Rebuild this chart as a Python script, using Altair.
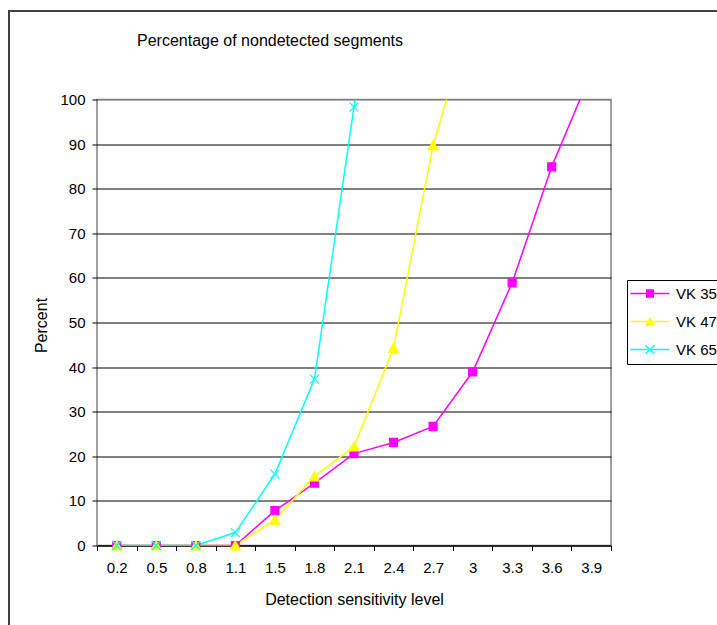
import altair as alt
import pandas as pd

# ---- data ----
levels = ["0.2", "0.5", "0.8", "1.1", "1.5", "1.8", "2.1", "2.4", "2.7", "3", "3.3", "3.6", "3.9"]
vk35 = [0, 0, 0, 0, 7.8, 14.0, 20.6, 23.1, 26.7, 38.9, 58.9, 84.9, 106.0]
vk47 = [0, 0, 0, 0, 5.8, 15.5, 22.2, 44.3, 89.7, 120.0]
vk65 = [0, 0, 0, 2.9, 16.0, 37.3, 98.3, 170.0]
series_names = ["VK 35", "VK 47", "VK 65"]
series_colors = ["#FF00FF", "#FFFF00", "#00FFFF"]
y_ticks = [0, 10, 20, 30, 40, 50, 60, 70, 80, 90, 100]
chart_title = "Percentage of nondetected segments"

rows = []
for name, vals in zip(series_names, [vk35, vk47, vk65]):
    for i, v in enumerate(vals):
        rows.append({"level": levels[i], "series": name, "value": v, "order": i})
df = pd.DataFrame(rows)

FONT = "Liberation Sans"
W, H = 514, 446
LEFT, TOP = 97, 99.5

# marker shapes (unit paths, scaled by sqrt(size)/2)
marker_paths = [
    "M-0.8,-0.8L0.8,-0.8L0.8,0.8L-0.8,0.8Z",
    "M0,-0.9L1,0.9L-1,0.9Z",
    "M-0.9,-0.9L0.9,0.9M-0.9,0.9L0.9,-0.9",
]
# legend symbols drawn as filled shapes: thin bar (the line) + marker
bar = "M-2,-0.15L5.8,-0.15L5.8,0.15L-2,0.15Z"
legend_paths = [
    bar + "M1.1,-0.85L2.7,-0.85L2.7,0.85L1.1,0.85Z",
    bar + "M1.9,-0.9L2.9,0.9L0.9,0.9Z",
    bar + "M0.9,-0.75L1.1,-0.95L2.9,0.75L2.7,0.95Z" + "M0.9,0.75L1.1,0.95L2.9,-0.75L2.7,-0.95Z",
]

def cscale():
    return alt.Scale(domain=series_names, range=series_colors)

x_enc = alt.X(
    "level:O",
    sort=levels,
    bandPosition=0.5,
    scale=alt.Scale(type="band", domain=levels, paddingInner=0, paddingOuter=0),
    axis=alt.Axis(
        title="Detection sensitivity level",
        labelAngle=0,
        tickBand="extent",
        tickSize=5,
        labelPadding=10,
        domainColor="black",
        tickColor="black",
        grid=False,
        titleY=58.6,
        titleBaseline="alphabetic",
        titleFontSize=16,
    ),
)
y_enc = alt.Y(
    "value:Q",
    scale=alt.Scale(domain=[0, 100], nice=False),
    axis=alt.Axis(
        title="Percent",
        values=y_ticks,
        tickSize=5,
        labelPadding=7,
        domain=False,
        tickColor="black",
        grid=True,
        gridColor=alt.condition("datum.value == 100", alt.value("#808080"), alt.value("black")),
        gridWidth=1,
        titleX=-51,
        titleY=225.5,
        titleBaseline="alphabetic",
        titleFontSize=16,
    ),
)

base = alt.Chart(df)

lines = base.mark_line(strokeWidth=1.5, clip=True).encode(
    x=x_enc,
    y=y_enc,
    color=alt.Color("series:N", scale=cscale(), legend=None),
    order="order:Q",
)

points = base.transform_filter("datum.value <= 100").mark_point(
    filled=True, size=100, strokeWidth=1.2, opacity=1
).encode(
    x=x_enc,
    y=y_enc,
    color=alt.Color("series:N", scale=cscale(), legend=None),
    stroke=alt.Stroke("series:N", scale=cscale(), legend=None),
    shape=alt.Shape("series:N", scale=alt.Scale(domain=series_names, range=marker_paths), legend=None),
)

leg = alt.Legend(
    title=None,
    orient="none",
    legendX=530,
    legendY=180.5,
    fillColor="white",
    strokeColor="black",
    padding=6,
    rowPadding=12,
    labelFont=FONT,
    labelFontSize=15,
    labelColor="black",
    labelOffset=28,
    symbolSize=100,
    symbolStrokeWidth=0,
    symbolOpacity=1,
)

legend_layer = base.transform_filter("false").mark_point(
    filled=True, size=100, opacity=1, strokeWidth=0
).encode(
    color=alt.Color("series:N", scale=cscale(), legend=leg),
    shape=alt.Shape("series:N", scale=alt.Scale(domain=series_names, range=legend_paths), legend=leg),
)

one = alt.Chart(pd.DataFrame({"f": [0]}))

frame = one.mark_rect(filled=False, stroke="#404040", strokeWidth=2, clip=False).encode(
    x=alt.value(-88),
    x2=alt.value(700),
    y=alt.value(-88.5),
    y2=alt.value(600),
)

title = one.mark_text(
    text=chart_title, font=FONT, fontSize=16, color="black", align="center", baseline="alphabetic"
).encode(x=alt.value(173), y=alt.value(-53.5))

chart = (
    alt.layer(frame, title, lines, points, legend_layer)
    .resolve_scale(color="independent", stroke="independent", shape="independent")
    .properties(
        width=W,
        height=H,
        autosize=alt.AutoSizeParams(type="none"),
        padding={"left": LEFT, "top": TOP, "right": 717 - LEFT - W, "bottom": 625 - TOP - H},
        background="white",
    )
    .configure_view(fill="#C0C0C0", stroke="#808080", strokeWidth=1.5)
    .configure_axis(
        labelFont=FONT,
        labelFontSize=15,
        labelColor="black",
        titleFont=FONT,
        titleFontSize=15,
        titleColor="black",
        titleFontWeight="normal",
    )
)

chart.save("out.html", embed_options={"renderer": "svg", "actions": False})
